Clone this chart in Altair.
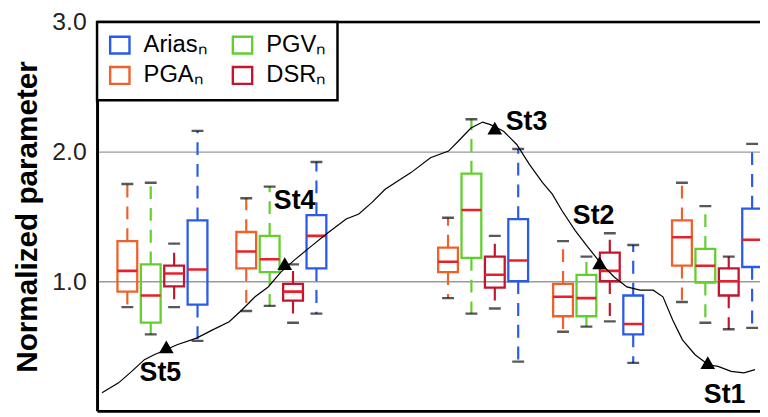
import altair as alt
import pandas as pd

# ---- data ----
params = ["PGAₙ", "PGVₙ", "DSRₙ", "Ariasₙ"]
legend_order = ["Ariasₙ", "PGAₙ", "PGVₙ", "DSRₙ"]
stations = ["St5", "St4", "St3", "St2", "St1"]

# distance along profile (m) of each group of boxes (St5 ... St1)
group_dist = [124, 368, 782, 1018, 1262]

# box statistics per group (St5 ... St1): lower cap, q1, median, q3, upper cap
pga_lo = [0.80, 0.77, 0.87, 0.61, 0.84]
pga_q1 = [0.92, 1.10, 1.07, 0.73, 1.12]
pga_med = [1.08, 1.23, 1.15, 0.88, 1.34]
pga_q3 = [1.31, 1.38, 1.26, 0.98, 1.47]
pga_hi = [1.75, 1.64, 1.49, 1.31, 1.76]

pgv_lo = [0.59, 0.81, 0.75, 0.65, 0.68]
pgv_q1 = [0.68, 1.07, 1.18, 0.73, 0.99]
pgv_med = [0.89, 1.17, 1.55, 0.87, 1.12]
pgv_q3 = [1.13, 1.35, 1.83, 1.05, 1.25]
pgv_hi = [1.76, 1.73, 2.25, 1.19, 1.58]

dsr_lo = [0.80, 0.68, 0.79, 0.69, 0.63]
dsr_q1 = [0.96, 0.85, 0.95, 1.00, 0.89]
dsr_med = [1.06, 0.92, 1.05, 1.08, 1.00]
dsr_q3 = [1.12, 0.98, 1.19, 1.22, 1.10]
dsr_hi = [1.29, 1.13, 1.35, 1.37, 1.19]

arias_lo = [0.54, 0.75, 0.38, 0.37, 0.64]
arias_q1 = [0.82, 1.10, 1.00, 0.59, 1.11]
arias_med = [1.09, 1.35, 1.16, 0.67, 1.32]
arias_q3 = [1.47, 1.51, 1.48, 0.89, 1.56]
arias_hi = [2.16, 1.92, 2.02, 1.28, 2.06]

# topographic profile (distance m, normalized height)
profile_x = [0, 34, 61, 87, 107, 131, 154, 194, 227, 261, 287, 314, 341, 367,
             394, 427, 461, 501, 527, 554, 581, 607, 634, 674, 711, 731, 757,
             781, 797, 824, 851, 877, 904, 924, 944, 971, 997, 1024, 1051,
             1077, 1104, 1131, 1151, 1171, 1191, 1217, 1244, 1264, 1291, 1317,
             1340]
profile_y = [0.14, 0.216, 0.305, 0.395, 0.433, 0.471, 0.51, 0.561, 0.625,
             0.688, 0.778, 0.88, 0.956, 1.071, 1.161, 1.263, 1.366, 1.48,
             1.519, 1.608, 1.71, 1.774, 1.838, 1.953, 2.004, 2.08, 2.182,
             2.228, 2.208, 2.157, 2.055, 1.902, 1.761, 1.672, 1.544, 1.391,
             1.263, 1.136, 1.033, 0.956, 0.931, 0.931, 0.88, 0.701, 0.548,
             0.433, 0.356, 0.343, 0.305, 0.293, 0.318]

# station markers on the profile
station_x = [132, 375, 806, 1021, 1243]
station_y = [0.494, 1.136, 2.182, 1.142, 0.372]

# ---- build tables ----
stats = {
    "PGAₙ": (pga_lo, pga_q1, pga_med, pga_q3, pga_hi),
    "PGVₙ": (pgv_lo, pgv_q1, pgv_med, pgv_q3, pgv_hi),
    "DSRₙ": (dsr_lo, dsr_q1, dsr_med, dsr_q3, dsr_hi),
    "Ariasₙ": (arias_lo, arias_q1, arias_med, arias_q3, arias_hi),
}
offset = {"PGAₙ": -72, "PGVₙ": -24, "DSRₙ": 24, "Ariasₙ": 72}
rows = []
for gi, st in enumerate(stations):
    for p in params:
        lo, q1, med, q3, hi = (a[gi] for a in stats[p])
        rows.append(dict(station=st, param=p, pos=group_dist[gi] + offset[p],
                         lo=lo, q1=q1, med=med, q3=q3, hi=hi))
boxes_df = pd.DataFrame(rows)
prof_df = pd.DataFrame({"dist": profile_x, "h": profile_y})
st_df = pd.DataFrame({"station": stations, "dist": station_x, "h": station_y})
top_df = pd.DataFrame({"top": [3.0]})

# ---- styling ----
colors = {"Ariasₙ": "#2A5BE6", "PGVₙ": "#62CF2E", "PGAₙ": "#EF612C", "DSRₙ": "#C0172E"}
cscale = alt.Scale(domain=legend_order, range=[colors[k] for k in legend_order])
xscale = alt.Scale(domain=[0, 1340], nice=False, zero=False)
yscale = alt.Scale(domain=[0, 3], nice=False, zero=False)
FONT = "Liberation Sans"

xaxis = alt.Axis(labels=False, ticks=False, grid=False, domainColor="black",
                 domainWidth=3, title=None)
yaxis = alt.Axis(values=[1, 2, 3], format=".1f", grid=True, gridColor="#9a9a9a",
                 gridWidth=1.5, ticks=False, domainColor="black", domainWidth=3,
                 labelFont=FONT, labelFontSize=25, labelColor="#222222",
                 labelPadding=11, title="Normalized parameter", titleFont=FONT,
                 titleFontSize=30, titleFontWeight="bold", titleColor="black",
                 titlePadding=9)


def X(field):
    return alt.X(field, type="quantitative", scale=xscale, axis=xaxis)


def Y(field):
    return alt.Y(field, type="quantitative", scale=yscale, axis=yaxis)


legend = alt.Legend(orient="none", legendX=0, legendY=0, columns=2, title=None,
                    symbolType="M-1.15,-1H1.15V1H-1.15Z", symbolSize=289,
                    symbolStrokeWidth=2.4, symbolFillColor="transparent",
                    labelFont=FONT, labelFontSize=24, labelColor="black",
                    labelOffset=12, columnPadding=20, rowPadding=3, padding=11,
                    strokeColor="black", fillColor="white")

base = alt.Chart(boxes_df)

boxes = base.mark_bar(width=20, filled=False, strokeWidth=2.3, clip=True).encode(
    x=X("pos"), y=Y("q1"), y2="q3",
    color=alt.Color("param:N", scale=cscale, legend=legend))

whisk_up = base.mark_rule(strokeWidth=2.2, strokeDash=[13, 9], clip=True).encode(
    x=X("pos"), y=Y("q3"), y2="hi",
    color=alt.Color("param:N", scale=cscale, legend=None))
whisk_lo = base.mark_rule(strokeWidth=2.2, strokeDash=[13, 9], clip=True).encode(
    x=X("pos"), y=Y("q1"), y2="lo",
    color=alt.Color("param:N", scale=cscale, legend=None))

cap_hi = base.mark_tick(orient="horizontal", size=12, thickness=2.4,
                        color="#111111", clip=True).encode(x=X("pos"), y=Y("hi"))
cap_lo = base.mark_tick(orient="horizontal", size=12, thickness=2.4,
                        color="#111111", clip=True).encode(x=X("pos"), y=Y("lo"))
medians = base.mark_tick(orient="horizontal", size=20, thickness=2.6,
                         color="#E8202A", opacity=1, clip=True).encode(
    x=X("pos"), y=Y("med"))

profile = alt.Chart(prof_df).mark_line(color="black", strokeWidth=1.2,
                                       clip=True).encode(x=X("dist"), y=Y("h"))

markers = alt.Chart(st_df).mark_point(shape="triangle-up", filled=True, size=220,
                                      color="black", opacity=1).encode(
    x=X("dist"), y=Y("h"))

label_off = {"St5": (-6, 27), "St4": (10, -63), "St3": (32, -6),
             "St2": (-6, -47), "St1": (17, 33)}
labels = []
for s in stations:
    dx, dy = label_off[s]
    labels.append(
        alt.Chart(st_df).transform_filter(alt.datum.station == s).mark_text(
            dx=dx, dy=dy, font=FONT, fontSize=27, fontWeight="bold",
            color="black", align="center", baseline="middle").encode(
            x=X("dist"), y=Y("h"), text="station:N"))

top_rule = alt.Chart(top_df).mark_rule(color="black", strokeWidth=2.5).encode(
    y=Y("top"))

chart = alt.layer(boxes, whisk_up, whisk_lo, cap_hi, cap_lo, medians, profile,
                  markers, *labels, top_rule).properties(
    width=670, height=393,
    autosize=alt.AutoSizeParams(type="none"),
    padding={"left": 90, "top": 12, "right": 0, "bottom": 0},
).configure_view(strokeWidth=0).configure(font=FONT).configure_legend(strokeWidth=2.5)

chart.save("out.html", embed_options={"renderer": "svg", "actions": False})
